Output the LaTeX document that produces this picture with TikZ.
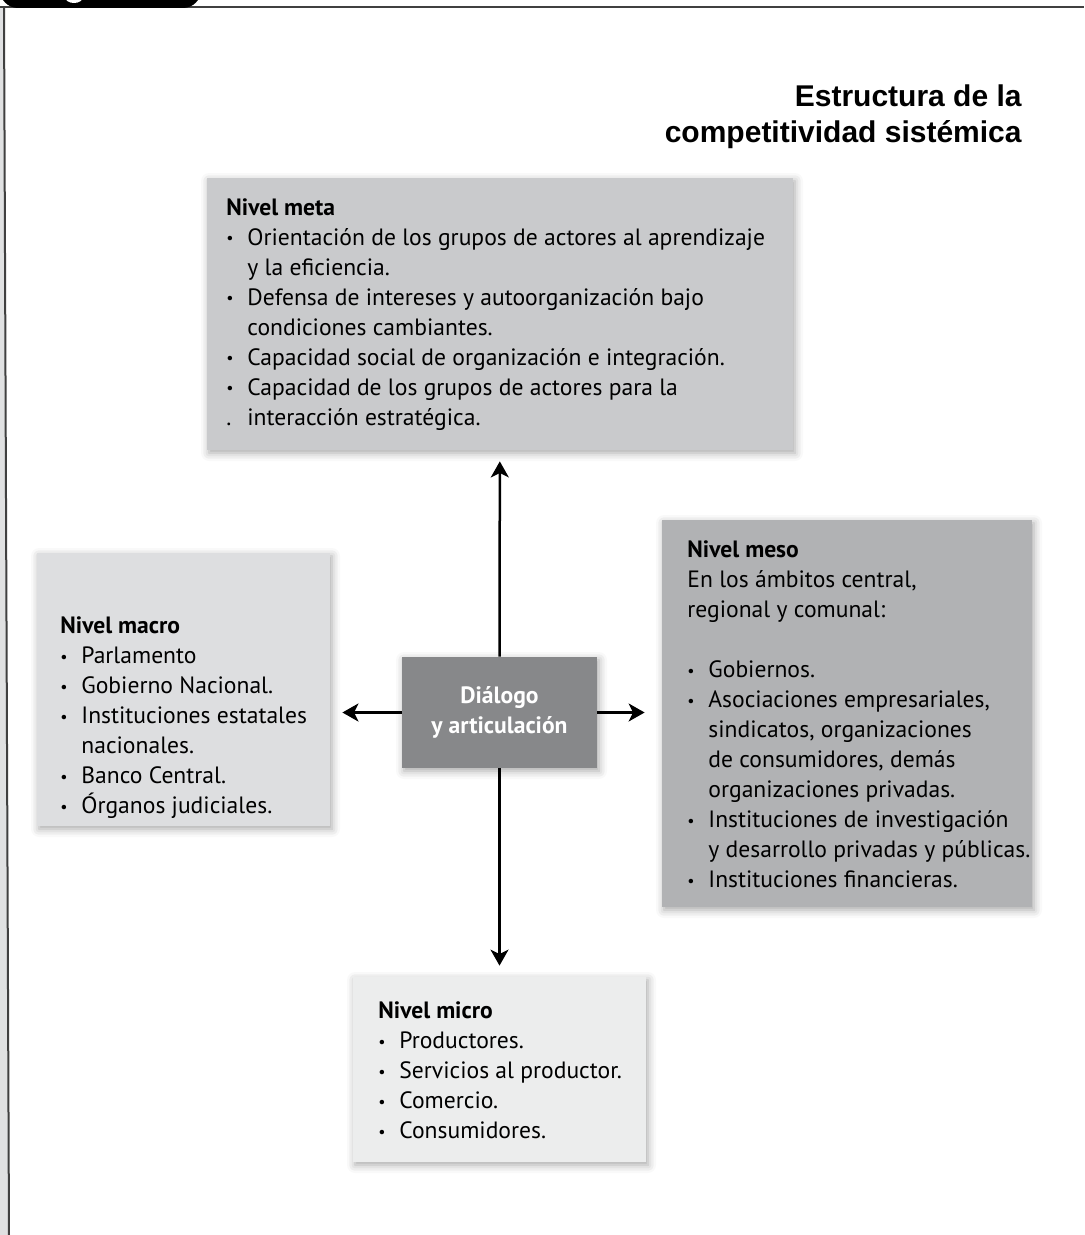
\documentclass[tikz,border=0pt]{standalone}
\usepackage{fontspec}
\setmainfont{PT Sans}
\newfontfamily\titlefont{Liberation Sans}
\usetikzlibrary{calc}
\usetikzlibrary{arrows.meta}
\usetikzlibrary{shadows.blur}

\definecolor{grismeta}{RGB}{201,202,204}
\definecolor{grismacro}{RGB}{221,222,224}
\definecolor{grisdialogo}{RGB}{135,136,138}
\definecolor{grismeso}{RGB}{177,178,180}
\definecolor{grismicro}{RGB}{236,237,237}
\definecolor{grismarco}{RGB}{224,225,226}

\newcommand{\bul}{\makebox[10.5pt][l]{\raisebox{.1ex}{\footnotesize\textbullet}}}
\newcommand{\sig}{\hspace*{10.5pt}}

\begin{document}
\begin{tikzpicture}[x=0.5pt, y=-0.5pt, font=\fontsize{11.8}{15}\selectfont,
  caja/.style={inner sep=0pt, blur shadow={shadow xshift=1pt, shadow yshift=-1.5pt,
      shadow blur radius=4pt, shadow opacity=35}},
  texto/.style={anchor=north west, align=left, inner sep=0pt},
  flecha/.style={-{Stealth[length=8pt,width=9pt,inset=2.2pt]}, line width=1.25pt}]

  \useasboundingbox (0,0) rectangle (1084,1235);

  % Marco de la pagina
  \fill[grismarco] (0,8) -- (4,8) -- (9,1235) -- (0,1235) -- cycle;
  \draw[line width=1pt, black!75] (0,7.5) -- (1084,7.5);
  \draw[line width=1pt, black!75] (4,7.5) -- (9,1235);
  \fill[black, rounded corners=9pt] (0,-30) rectangle (201,8);
  \fill[white] (74,-3) ellipse (4.5pt and 3pt);

  % Titulo
  \node[anchor=north east, align=right, inner sep=0pt,
        font=\titlefont\bfseries\fontsize{15}{18}\selectfont] (titulo)
        at (1022,84) {Estructura de la\\competitividad sistémica};

  % Cajas
  \node[caja, fill=grismeta, minimum width=293pt, minimum height=136pt] (meta) at (500,314) {};
  \node[caja, fill=grismacro, minimum width=146.5pt, minimum height=136.5pt] (macro) at (183.5,689.5) {};
  \node[caja, fill=grismeso, minimum width=185pt, minimum height=193.5pt] (meso) at (847,713.5) {};
  \node[caja, fill=grismicro, minimum width=146.5pt, minimum height=92.5pt] (micro) at (499.5,1069.5) {};
  \node[caja, fill=grisdialogo, minimum width=97.5pt, minimum height=55.5pt,
        text=white, align=center, font=\fontsize{11.8}{15}\selectfont\bfseries] (dialogo)
        at (499.5,712.5) {Diálogo\\y articulación};

  % Textos de las cajas
  \node[texto] (metatxt) at (226,198) {\textbf{Nivel meta}\\
    \bul Orientación de los grupos de actores al aprendizaje\\
    \sig y la eficiencia.\\
    \bul Defensa de intereses y autoorganización bajo\\
    \sig condiciones cambiantes.\\
    \bul Capacidad social de organización e integración.\\
    \bul Capacidad de los grupos de actores para la\\
    \makebox[10.5pt][l]{.}interacción estratégica.};

  \node[texto] (macrotxt) at (60,616) {\textbf{Nivel macro}\\
    \bul Parlamento\\
    \bul Gobierno Nacional.\\
    \bul Instituciones estatales\\
    \sig nacionales.\\
    \bul Banco Central.\\
    \bul Órganos judiciales.};

  \node[texto] (mesotxt) at (687,540) {\textbf{Nivel meso}\\
    En los ámbitos central,\\
    regional y comunal:\\[15pt]
    \bul Gobiernos.\\
    \bul Asociaciones empresariales,\\
    \sig sindicatos, organizaciones\\
    \sig de consumidores, demás\\
    \sig organizaciones privadas.\\
    \bul Instituciones de investigación\\
    \sig y desarrollo privadas y públicas.\\
    \bul Instituciones financieras.};

  \node[texto] (microtxt) at (378,1001) {\textbf{Nivel micro}\\
    \bul Productores.\\
    \bul Servicios al productor.\\
    \bul Comercio.\\
    \bul Consumidores.};

  % Flechas desde el centro
  \draw[flecha, shorten >=5.5pt] (dialogo) -- (meta);
  \draw[flecha, shorten >=5.5pt] (dialogo) -- (micro);
  \draw[flecha, shorten >=6pt] (dialogo.west) -- (dialogo.west -| macro.east);
  \draw[flecha, shorten >=8.5pt] (dialogo.east) -- (dialogo.east -| meso.west);
\end{tikzpicture}
\end{document}
